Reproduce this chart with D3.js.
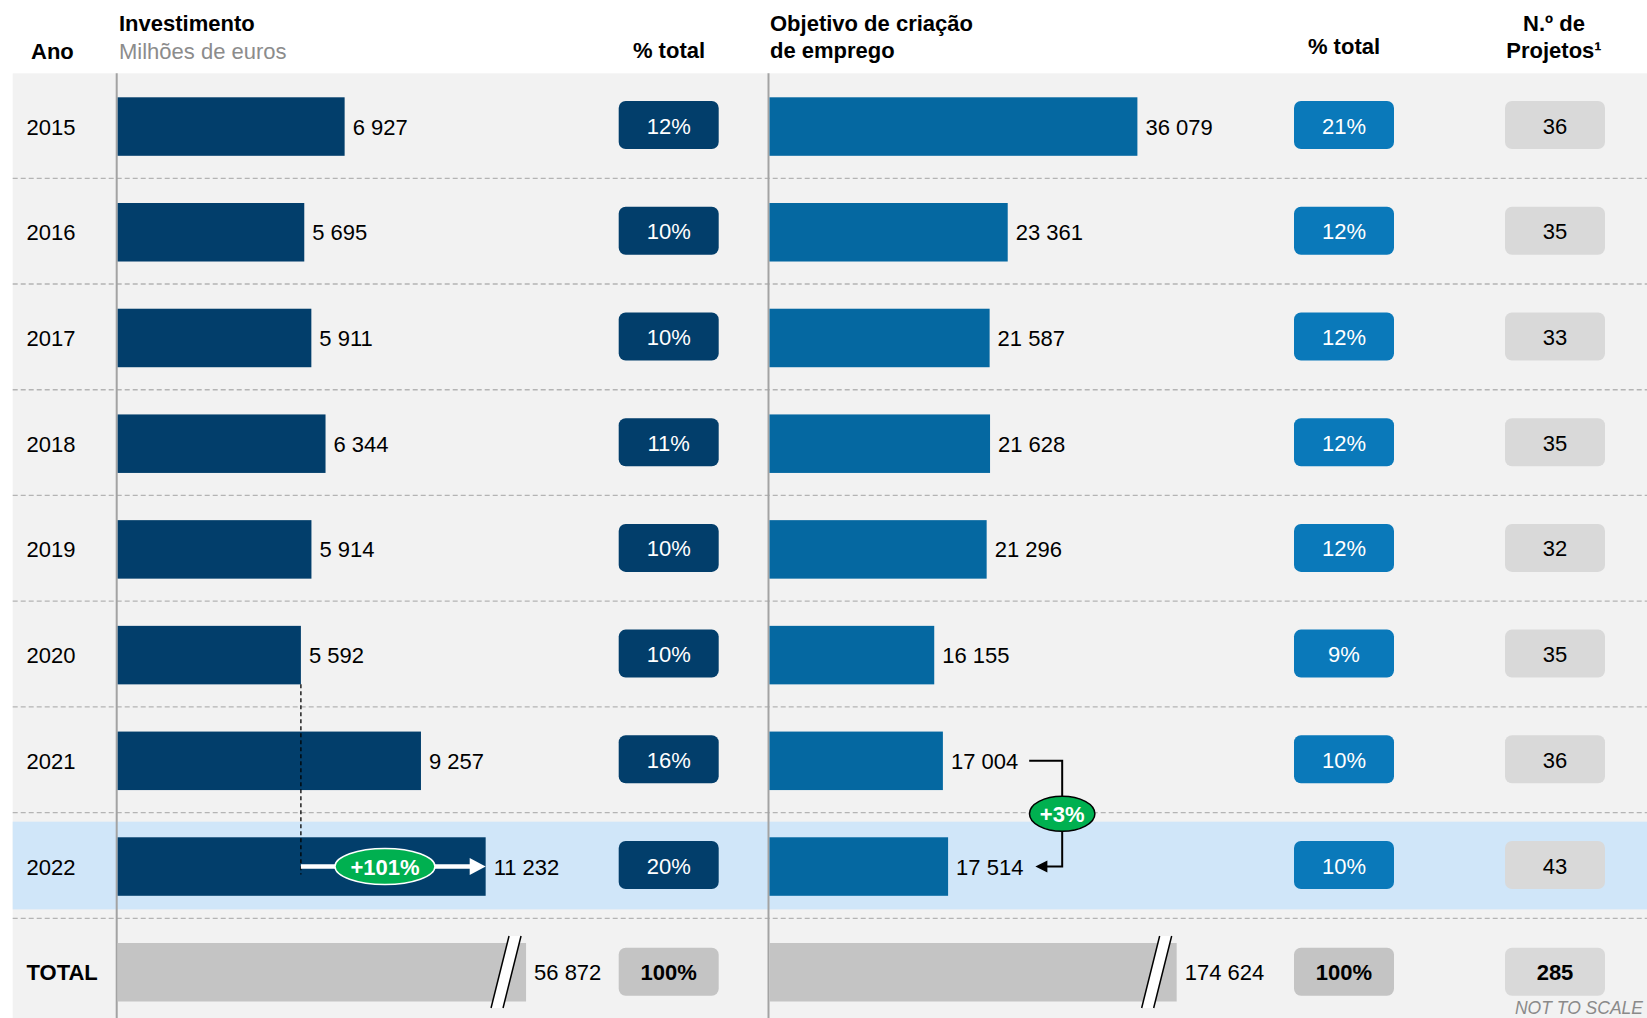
<!DOCTYPE html>
<html>
<head>
<meta charset="utf-8">
<script src="https://d3js.org/d3.v7.min.js"></script>
<style>
    body { margin: 0; background: #fff; }
    svg text { font-family: Arial, 'Liberation Sans', sans-serif; }
</style>
</head>
<body>
<div id="container"></div>
<script>
    // values
    const years = ['2015', '2016', '2017', '2018', '2019', '2020', '2021', '2022'];
    const investment = [6927, 5695, 5911, 6344, 5914, 5592, 9257, 11232];
    const investmentPct = ['12%', '10%', '10%', '11%', '10%', '10%', '16%', '20%'];
    const jobs = [36079, 23361, 21587, 21628, 21296, 16155, 17004, 17514];
    const jobsPct = ['21%', '12%', '12%', '12%', '12%', '9%', '10%', '10%'];
    const projects = [36, 35, 33, 35, 32, 35, 36, 43];
    const totalInvestment = 56872;
    const totalJobs = 174624;
    const totalProjects = 285;
    const totalPct = '100%';
    const investGrowth = '+101%';
    const jobsGrowth = '+3%';
    // totals are drawn cut off ("not to scale") at these lengths
    const investCut = 12465;
    const jobsCut = 39930;

    const w = 1647;
    const h = 1018;
    const navy = '#023e6b';
    const blue = '#0568a1';
    const blueBox = '#0a79ba';
    const green = '#00b050';

    const fmt = d3.formatLocale({decimal: ',', thousands: ' ', grouping: [3], currency: ['', '']}).format(',d');

    const svg = d3.select('#container')
                  .append('svg')
                  .attr('width', w)
                  .attr('height', h);

    const rows = [...years, 'TOTAL'];
    const yScale = d3.scaleBand()
                     .domain(rows)
                     .range([97.3, 1001.5])
                     .paddingInner(0.4466)
                     .paddingOuter(0);
    const bw = yScale.bandwidth();
    const mid = (r) => yScale(r) + bw / 2;

    const xInv = d3.scaleLinear().domain([0, 10000]).range([117.7, 445.3]);
    const xJob = d3.scaleLinear().domain([0, 36079]).range([769.5, 1137.4]);

    // background panel + highlighted year
    svg.append('rect')
       .attr('x', 12.7).attr('y', 73.3)
       .attr('width', w - 12.7).attr('height', h - 73.3)
       .attr('fill', '#f2f2f2');
    svg.append('rect')
       .attr('x', 12.7).attr('y', yScale('2022') - 15.6)
       .attr('width', w - 12.7).attr('height', bw + 29.2)
       .attr('fill', '#d0e6f9');

    // dashed row separators
    svg.selectAll('line.sep')
       .data(years)
       .enter()
       .append('line')
       .attr('class', 'sep')
       .attr('x1', 12.7).attr('x2', w)
       .attr('y1', (d) => yScale(d) + bw + 22.5)
       .attr('y2', (d) => yScale(d) + bw + 22.5)
       .attr('stroke', '#b4b4b4')
       .attr('stroke-width', 1.3)
       .attr('stroke-dasharray', '5,3');

    // axis lines
    [xInv(0) - 1, xJob(0) - 1].forEach((x) => {
        svg.append('line')
           .attr('x1', x).attr('x2', x)
           .attr('y1', 73.3).attr('y2', h)
           .attr('stroke', '#a3a3a3')
           .attr('stroke-width', 2);
    });

    // headers
    const head = svg.append('g').attr('font-size', 22).attr('font-weight', 'bold').attr('fill', '#000');
    head.append('text').attr('x', 31).attr('y', 58.5).text('Ano');
    head.append('text').attr('x', 119).attr('y', 31).text('Investimento');
    head.append('text').attr('x', 119).attr('y', 58.5).attr('font-weight', 'normal').attr('fill', '#8c8c8c').text('Milhões de euros');
    head.append('text').attr('x', 669).attr('y', 57.5).attr('text-anchor', 'middle').text('% total');
    head.append('text').attr('x', 770).attr('y', 31).text('Objetivo de criação');
    head.append('text').attr('x', 770).attr('y', 57.5).text('de emprego');
    head.append('text').attr('x', 1344).attr('y', 54).attr('text-anchor', 'middle').text('% total');
    head.append('text').attr('x', 1554).attr('y', 31).attr('text-anchor', 'middle').text('N.º de');
    head.append('text').attr('x', 1554).attr('y', 57.5).attr('text-anchor', 'middle').text('Projetos¹');

    // row labels
    svg.selectAll('text.row')
       .data(rows)
       .enter()
       .append('text')
       .attr('class', 'row')
       .attr('x', 26.5)
       .attr('y', (d) => mid(d) + 8)
       .attr('font-size', 22)
       .attr('font-weight', (d) => d === 'TOTAL' ? 'bold' : 'normal')
       .text((d) => d);

    // investment bars
    svg.selectAll('rect.inv')
       .data(years)
       .enter()
       .append('rect')
       .attr('class', 'inv')
       .attr('x', xInv(0))
       .attr('y', (d) => yScale(d))
       .attr('width', (d, i) => xInv(investment[i]) - xInv(0))
       .attr('height', bw)
       .attr('fill', navy);
    svg.selectAll('text.inv')
       .data(years)
       .enter()
       .append('text')
       .attr('class', 'inv')
       .attr('x', (d, i) => xInv(investment[i]) + 8)
       .attr('y', (d) => mid(d) + 8)
       .attr('font-size', 22)
       .text((d, i) => fmt(investment[i]));

    // job bars
    svg.selectAll('rect.job')
       .data(years)
       .enter()
       .append('rect')
       .attr('class', 'job')
       .attr('x', xJob(0))
       .attr('y', (d) => yScale(d))
       .attr('width', (d, i) => xJob(jobs[i]) - xJob(0))
       .attr('height', bw)
       .attr('fill', blue);
    const jobLabels = svg.selectAll('text.job')
       .data(years)
       .enter()
       .append('text')
       .attr('class', 'job')
       .attr('x', (d, i) => xJob(jobs[i]) + 8)
       .attr('y', (d) => mid(d) + 8)
       .attr('font-size', 22)
       .text((d, i) => fmt(jobs[i]));

    // rounded boxes
    function box(cx, cy, fill, label, color, bold) {
        svg.append('rect')
           .attr('x', cx - 50).attr('y', cy - 24.5)
           .attr('width', 100).attr('height', 48)
           .attr('rx', 7).attr('ry', 7)
           .attr('fill', fill);
        svg.append('text')
           .attr('x', cx).attr('y', cy + 8)
           .attr('text-anchor', 'middle')
           .attr('font-size', 22)
           .attr('font-weight', bold ? 'bold' : 'normal')
           .attr('fill', color)
           .text(label);
    }
    years.forEach((yr, i) => {
        box(668.7, mid(yr) - 1, navy, investmentPct[i], '#fff', false);
        box(1344, mid(yr) - 1, blueBox, jobsPct[i], '#fff', false);
        box(1555, mid(yr) - 1, '#d9d9d9', projects[i], '#000', false);
    });
    box(668.7, mid('TOTAL'), '#c4c4c4', totalPct, '#000', true);
    box(1344, mid('TOTAL'), '#c4c4c4', totalPct, '#000', true);
    box(1555, mid('TOTAL'), '#d9d9d9', totalProjects, '#000', true);

    // total bars with break marks
    function totalBar(scale, cut, value) {
        const x1 = scale(cut);
        const top = yScale('TOTAL');
        svg.append('rect')
           .attr('x', scale(0)).attr('y', top)
           .attr('width', x1 - scale(0)).attr('height', bw)
           .attr('fill', '#c4c4c4');
        const yt = top - 7, yb = top + bw + 6.5;
        svg.append('path')
           .attr('d', `M${x1 - 17},${yt} L${x1 - 5},${yt} L${x1 - 23},${yb} L${x1 - 35},${yb} Z`)
           .attr('fill', '#fff');
        [[-17, -35], [-5, -23]].forEach((o) => {
            svg.append('line')
               .attr('x1', x1 + o[0]).attr('y1', yt)
               .attr('x2', x1 + o[1]).attr('y2', yb)
               .attr('stroke', '#000').attr('stroke-width', 1.5);
        });
        svg.append('text')
           .attr('x', x1 + 8).attr('y', mid('TOTAL') + 8)
           .attr('font-size', 22)
           .text(fmt(value));
    }
    totalBar(xInv, investCut, totalInvestment);
    totalBar(xJob, jobsCut, totalJobs);

    // growth annotation, investment 2020 -> 2022
    const ax0 = xInv(investment[5]);
    const ax1 = xInv(investment[7]);
    const ay = mid('2022');
    svg.append('line')
       .attr('x1', ax0).attr('x2', ax0)
       .attr('y1', yScale('2020') + bw).attr('y2', ay + 8)
       .attr('stroke', '#000').attr('stroke-width', 1.3)
       .attr('stroke-dasharray', '4,3');
    svg.append('line')
       .attr('x1', ax0).attr('x2', ax1 - 14)
       .attr('y1', ay).attr('y2', ay)
       .attr('stroke', '#fff').attr('stroke-width', 4.5);
    svg.append('path')
       .attr('d', `M${ax1 - 16},${ay - 8.5} L${ax1},${ay} L${ax1 - 16},${ay + 8.5} Z`)
       .attr('fill', '#fff');
    const ecx = ax0 + 0.455 * (ax1 - ax0);
    svg.append('ellipse')
       .attr('cx', ecx).attr('cy', ay)
       .attr('rx', 50).attr('ry', 18)
       .attr('fill', green).attr('stroke', '#fff').attr('stroke-width', 1.5);
    svg.append('text')
       .attr('x', ecx).attr('y', ay + 8)
       .attr('text-anchor', 'middle')
       .attr('font-size', 22).attr('font-weight', 'bold')
       .attr('fill', '#fff')
       .text(investGrowth);

    // growth annotation, jobs 2021 -> 2022
    const lab21 = jobLabels.filter((d) => d === '2021').node();
    const lab22 = jobLabels.filter((d) => d === '2022').node();
    const bx0 = xJob(jobs[6]) + 8 + lab21.getComputedTextLength() + 11;
    const bx = bx0 + 33;
    const bTip = xJob(jobs[7]) + 8 + lab22.getComputedTextLength() + 12;
    const by0 = mid('2021');
    const by1 = mid('2022');
    svg.append('path')
       .attr('d', `M${bx0},${by0} H${bx} V${by1} H${bTip + 10}`)
       .attr('fill', 'none')
       .attr('stroke', '#000').attr('stroke-width', 2);
    svg.append('path')
       .attr('d', `M${bTip},${by1} L${bTip + 12},${by1 - 6} L${bTip + 12},${by1 + 6} Z`)
       .attr('fill', '#000');
    const bcy = (by0 + by1) / 2;
    svg.append('ellipse')
       .attr('cx', bx).attr('cy', bcy)
       .attr('rx', 32.7).attr('ry', 17.5)
       .attr('fill', green).attr('stroke', '#000').attr('stroke-width', 1.5);
    svg.append('text')
       .attr('x', bx).attr('y', bcy + 8)
       .attr('text-anchor', 'middle')
       .attr('font-size', 22).attr('font-weight', 'bold')
       .attr('fill', '#fff')
       .text(jobsGrowth);

    svg.append('text')
       .attr('x', 1643).attr('y', 1014)
       .attr('text-anchor', 'end')
       .attr('font-size', 17.5)
       .attr('font-style', 'italic')
       .attr('fill', '#8a8a8a')
       .text('NOT TO SCALE');
</script>
</body>
</html>
